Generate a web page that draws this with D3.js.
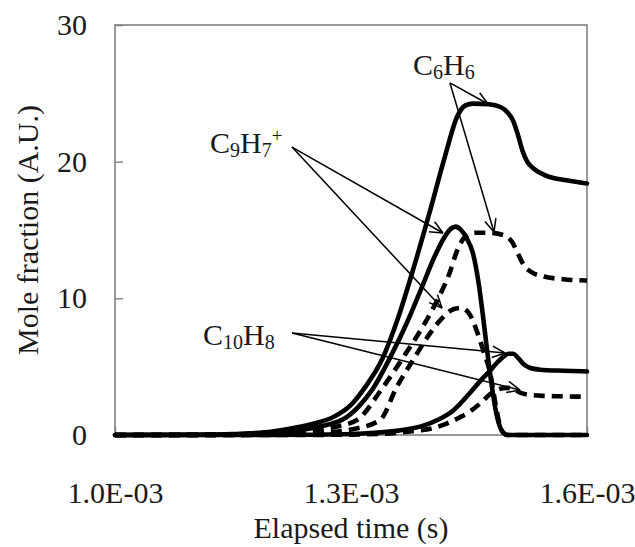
<!DOCTYPE html>
<html>
<head>
<meta charset="utf-8">
<script src="https://cdn.jsdelivr.net/npm/d3@7"></script>
<style>
  html, body { margin: 0; padding: 0; background: #fff; }
  svg { display: block; }
  text { font-family: "Liberation Serif", "Times New Roman", serif; fill: #1a1a1a; }
</style>
</head>
<body>
<svg id="chart" width="635" height="547"></svg>
<script>
// ---- data (time in units of 1E-03 s, mole fraction in A.U.) ----
const c6h6SolidT = [1.00, 1.10, 1.15, 1.20, 1.235, 1.26, 1.277, 1.30, 1.318, 1.34, 1.36, 1.38, 1.40, 1.42, 1.435, 1.445, 1.455, 1.475, 1.49, 1.499, 1.506, 1.512, 1.518, 1.524, 1.532, 1.547, 1.572, 1.60];
const c6h6SolidV = [0, 0.02, 0.07, 0.25, 0.6, 0.95, 1.3, 2.2, 3.5, 5.6, 8.6, 12.3, 16.3, 20.5, 23.3, 24.1, 24.25, 24.2, 24.0, 23.6, 23.0, 22.0, 20.8, 20.0, 19.5, 19.0, 18.65, 18.4];

const c6h6DashT = [1.00, 1.12, 1.20, 1.25, 1.28, 1.3076, 1.3407, 1.37, 1.393, 1.41, 1.425, 1.435, 1.445, 1.458, 1.475, 1.495, 1.505, 1.512, 1.52, 1.53, 1.545, 1.57, 1.60];
const c6h6DashV = [0, 0.01, 0.1, 0.3, 0.6, 1.1, 3.5, 6.0, 8.1, 9.9, 11.8, 13.5, 14.5, 14.8, 14.8, 14.6, 14.1, 13.3, 12.4, 11.9, 11.6, 11.4, 11.3];

const c9h7SolidT = [1.00, 1.10, 1.15, 1.20, 1.25, 1.27, 1.29, 1.31, 1.328, 1.35, 1.3725, 1.39, 1.405, 1.418, 1.427, 1.433, 1.44, 1.447, 1.455, 1.462, 1.468, 1.473, 1.479, 1.485, 1.49, 1.495, 1.50, 1.60];
const c9h7SolidV = [0, 0.01, 0.05, 0.17, 0.5, 0.75, 1.15, 2.1, 3.4, 5.7, 8.4, 10.8, 12.9, 14.4, 15.1, 15.25, 15.0, 14.4, 13.3, 11.2, 8.6, 6.2, 3.6, 1.5, 0.5, 0.1, 0, 0];

const c9h7DashT = [1.00, 1.15, 1.22, 1.27, 1.30, 1.337, 1.358, 1.379, 1.40, 1.415, 1.43, 1.44, 1.45, 1.46, 1.468, 1.477, 1.483, 1.488, 1.493, 1.498, 1.60];
const c9h7DashV = [0, 0.01, 0.06, 0.2, 0.4, 1.1, 3.5, 5.5, 7.4, 8.5, 9.2, 9.3, 8.9, 7.6, 6.2, 4.5, 2.5, 1.0, 0.2, 0, 0];

const c10h8SolidT = [1.00, 1.20, 1.25, 1.30, 1.33, 1.36, 1.39, 1.41, 1.43, 1.45, 1.465, 1.475, 1.485, 1.493, 1.50, 1.506, 1.513, 1.52, 1.528, 1.54, 1.57, 1.60];
const c10h8SolidV = [0, 0.005, 0.02, 0.07, 0.16, 0.32, 0.65, 1.1, 1.8, 3.0, 4.0, 4.6, 5.25, 5.7, 5.95, 5.95, 5.6, 5.15, 4.9, 4.78, 4.7, 4.65];

const c10h8DashT = [1.00, 1.20, 1.25, 1.30, 1.35, 1.38, 1.404, 1.42, 1.4386, 1.452, 1.464, 1.477, 1.488, 1.498, 1.507, 1.515, 1.525, 1.54, 1.57, 1.60];
const c10h8DashV = [0, 0.002, 0.008, 0.03, 0.12, 0.3, 0.5, 0.8, 1.3, 1.75, 2.3, 3.0, 3.35, 3.45, 3.35, 3.1, 2.95, 2.88, 2.83, 2.8];

const xTickValues = [1.0, 1.3, 1.6];
const xTickLabels = ["1.0E-03", "1.3E-03", "1.6E-03"];
const yTickValues = [0, 10, 20, 30];
const yTickLabels = ["0", "10", "20", "30"];
const xAxisTitle = "Elapsed time (s)";
const yAxisTitle = "Mole fraction (A.U.)";

// annotation anchors in data units
const annC6H6 = { label: [["C", ""], ["6", "sub"], ["H", ""], ["6", "sub"]], at: [1.3788, 26.34], from: [1.4258, 25.76], to: [[1.4742, 24.22], [1.4818, 14.85]] };
const annC9H7 = { label: [["C", ""], ["9", "sub"], ["H", ""], ["7", "sub"], ["+", "sup"]], at: [1.1208, 20.63], from: [1.225, 21.07], to: [[1.4169, 14.78], [1.4157, 9.29]] };
const annC10H8 = { label: [["C", ""], ["10", "sub"], ["H", ""], ["8", "sub"]], at: [1.1119, 6.59], from: [1.225, 7.46], to: [[1.4958, 6.0], [1.5148, 3.29]] };

// ---- layout ----
const svg = d3.select("#chart");
const mLeft = 115, mRight = 587, mTop = 25, mBottom = 435;
const x = d3.scaleLinear().domain([1.0, 1.6]).range([mLeft, mRight]);
const y = d3.scaleLinear().domain([0, 30]).range([mBottom, mTop]);
const FONT = 30;

// frame
svg.append("rect").attr("x", mLeft).attr("y", mTop).attr("width", mRight - mLeft).attr("height", mBottom - mTop)
  .attr("fill", "none").attr("stroke", "#808080").attr("stroke-width", 1.6);

// axes
const yAxis = d3.axisLeft(y).tickValues(yTickValues).tickFormat((d, i) => yTickLabels[i]).tickSize(-8).tickPadding(28);
const gy = svg.append("g").attr("transform", `translate(${mLeft},0)`).call(yAxis);
const xAxis = d3.axisBottom(x).tickValues(xTickValues).tickFormat((d, i) => xTickLabels[i]).tickSize(-8).tickPadding(47);
const gx = svg.append("g").attr("transform", `translate(0,${mBottom})`).call(xAxis);
[gx, gy].forEach(g => {
  g.select(".domain").remove();
  g.selectAll(".tick line").attr("stroke", "#808080").attr("stroke-width", 1.4);
  g.selectAll(".tick text").style("font-family", "'Liberation Serif', serif").style("font-size", FONT + "px").attr("fill", "#1a1a1a");
});

// axis titles
svg.append("text").attr("x", (mLeft + mRight) / 2).attr("y", 538).attr("text-anchor", "middle")
  .style("font-size", FONT + "px").text(xAxisTitle);
svg.append("text").attr("transform", `translate(38,${(mTop + mBottom) / 2}) rotate(-90)`).attr("text-anchor", "middle")
  .style("font-size", FONT + "px").text(yAxisTitle);

// lines
const line = d3.line().x(d => x(d[0])).y(d => y(d[1])).curve(d3.curveMonotoneX);
const series = [
  { t: c10h8DashT, v: c10h8DashV, dash: true },
  { t: c9h7DashT, v: c9h7DashV, dash: true },
  { t: c6h6DashT, v: c6h6DashV, dash: true },
  { t: c10h8SolidT, v: c10h8SolidV, dash: false },
  { t: c9h7SolidT, v: c9h7SolidV, dash: false },
  { t: c6h6SolidT, v: c6h6SolidV, dash: false },
];
const plot = svg.append("g");
series.forEach(s => {
  const pts = s.t.map((t, i) => [t, s.v[i]]);
  plot.append("path").datum(pts).attr("d", line)
    .attr("fill", "none").attr("stroke", "#000").attr("stroke-width", 4.6)
    .attr("stroke-linejoin", "round").attr("stroke-linecap", s.dash ? "butt" : "round")
    .attr("stroke-dasharray", s.dash ? "11,7" : null);
});

// annotations
function annotate(a) {
  const t = svg.append("text").attr("x", x(a.at[0])).attr("y", y(a.at[1])).style("font-size", FONT + "px");
  let shift = 0;
  a.label.forEach(([s, kind]) => {
    const sp = t.append("tspan").text(s);
    let target = 0;
    if (kind === "sub") { sp.style("font-size", "20px"); target = 4; }
    else if (kind === "sup") { sp.style("font-size", "19px"); target = -11; }
    sp.attr("dy", target - shift);
    shift = target;
  });
  const o = [x(a.from[0]), y(a.from[1])];
  a.to.forEach(e => {
    const p = [x(e[0]), y(e[1])];
    svg.append("line").attr("x1", o[0]).attr("y1", o[1]).attr("x2", p[0]).attr("y2", p[1])
      .attr("stroke", "#000").attr("stroke-width", 1.5);
    const ang = Math.atan2(p[1] - o[1], p[0] - o[0]);
    const L = 14, spread = 0.42;
    [ang + Math.PI - spread, ang + Math.PI + spread].forEach(b => {
      svg.append("line").attr("x1", p[0]).attr("y1", p[1])
        .attr("x2", p[0] + L * Math.cos(b)).attr("y2", p[1] + L * Math.sin(b))
        .attr("stroke", "#000").attr("stroke-width", 1.5);
    });
  });
}
[annC6H6, annC9H7, annC10H8].forEach(annotate);
</script>
</body>
</html>
